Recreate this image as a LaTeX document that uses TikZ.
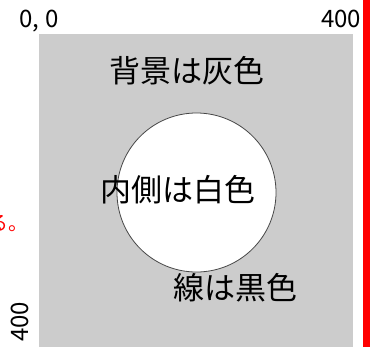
\documentclass[tikz,border=0pt]{standalone}
\usepackage{fontspec}
\setmainfont{Noto Sans CJK JP}
\begin{document}
\begin{tikzpicture}[x=1bp,y=-1bp,
  lbl/.style={inner sep=0pt, font=\fontsize{31bp}{31bp}\selectfont},
  num/.style={inner sep=0pt, font=\fontsize{24bp}{24bp}\selectfont}]
\useasboundingbox (0,0) rectangle (374,347);
\fill[white] (0,0) rectangle (374,347);
\fill[fill={rgb,255:red,204;green,204;blue,204}] (39,34) rectangle (353,348);
\fill[red] (363,0) rectangle (370,347);
\node[draw={rgb,255:red,70;green,70;blue,70}, line width=0.8bp, fill=white, circle, minimum size=159bp, inner sep=0pt] (c) at (196.5,192.5) {};
\node[lbl] (bg) at (187.5,71) {背景は灰色};
\node[lbl] (in) at (178.5,190) {内側は白色};
\node[lbl] (ln) at (235,288) {線は黒色};
\node[num] (o) at (39,21) {0, 0};
\node[num] (t) at (341,19) {400};
\node[num, rotate=90] (l) at (20,322) {400};
\node[inner sep=0pt, anchor=east, text=red, font=\fontsize{20bp}{20bp}\selectfont] (r) at (29,224) {る。};
\end{tikzpicture}
\end{document}
